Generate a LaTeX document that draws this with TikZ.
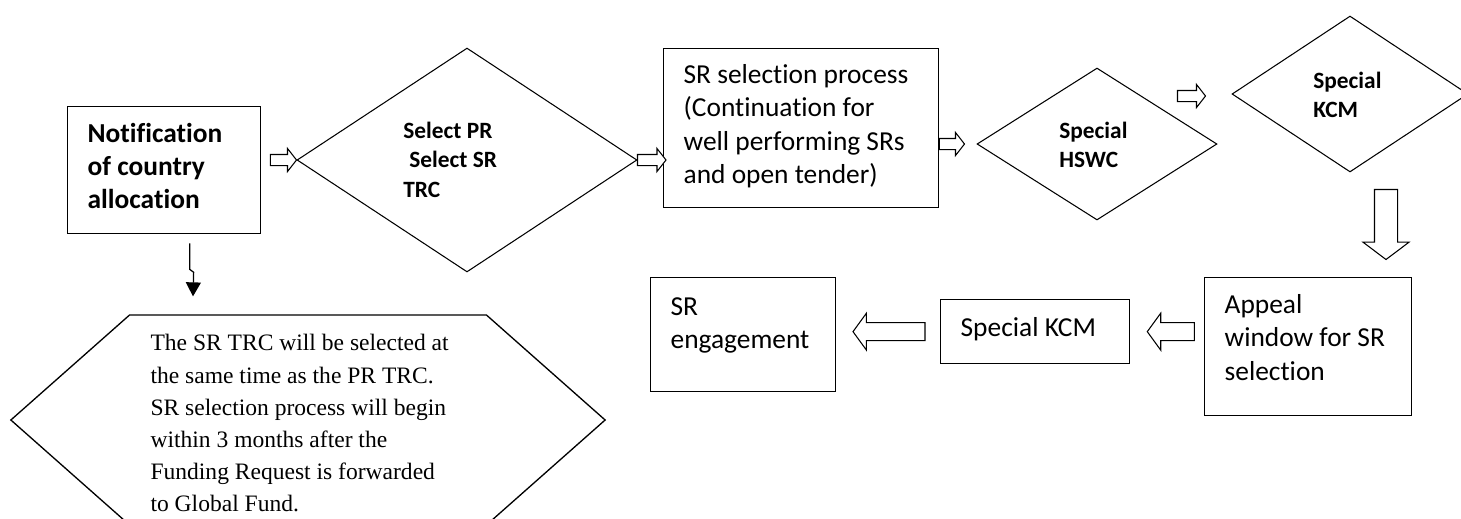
\documentclass[tikz,border=0pt]{standalone}
\usepackage{fontspec}
\setmainfont{Carlito}[Ligatures=NoCommon]
\newfontfamily\notefont{Liberation Serif}
\usetikzlibrary{shapes.geometric, shapes.arrows, shapes.symbols, calc, arrows.meta}

% hollow block arrow from #2 to #3
\newcommand{\blockarrow}[3][]{%
  \path let \p1=#2, \p2=#3, \n1={veclen(\x2-\x1,\y2-\y1)}, \n2={atan2(\y2-\y1,\x2-\x1)} in
    node [hollow arrow, #1, minimum height=\n1, rotate=\n2, anchor=tail] at (\p1) {};}

\begin{document}
\begin{tikzpicture}[x=0.02cm, y=-0.02cm,
  box/.style={draw, line width=0.75pt, anchor=north west, inner xsep=0.4cm, inner ysep=0pt,
    align=flush left, font=\fontsize{15.6}{18.9}\selectfont},
  dia/.style={diamond, draw, line width=0.6pt, inner sep=0pt},
  dtext/.style={anchor=base west, inner sep=0pt, text width=3cm, align=flush left,
    font=\bfseries\fontsize{13.3}{16.8}\selectfont},
  hollow arrow/.style={single arrow, draw, fill=white, line width=0.6pt, inner xsep=0pt,
    inner ysep=0.1cm, single arrow head extend=0.12cm, single arrow tip angle=104,
    single arrow head indent=0pt, outer sep=0pt},
  wide arrow/.style={inner ysep=0.17cm, single arrow head extend=0.19cm, single arrow tip angle=108},
  big arrow/.style={inner ysep=0.22cm, single arrow head extend=0.23cm, single arrow tip angle=106}]
\useasboundingbox (0,0) rectangle (1461,518);
\clip (0,0) rectangle (1461,518);

\node [box, text width=3.06cm, text height=0.72cm, text depth=1.82cm,
  font=\bfseries\fontsize{15.6}{18.6}\selectfont] (nt) at (67,106) {Notification\\of country\\allocation};

\node [dia, minimum width=6.8cm, minimum height=4.48cm] (sel) at (467,160) {};
\node [dtext] (sel-t) at (403,138) {Select PR\\\hspace*{0.12cm}Select SR\\TRC};

\node [box, text width=4.7cm, text height=0.7cm, text depth=2.48cm] (srp) at (663,48)
  {SR selection process\\(Continuation for\\well performing SRs\\and open tender)};

\node [dia, minimum width=4.8cm, minimum height=3.04cm] (hswc) at (1097,144) {};
\node [dtext] (hswc-t) at (1059,138) {Special\\HSWC};

\node [dia, minimum width=4.72cm, minimum height=3.12cm] (kcm) at (1350,94) {};
\node [dtext] (kcm-t) at (1313,88) {Special\\KCM};

\node [box, text width=3.34cm, text height=0.72cm, text depth=2.04cm] (apl) at (1204,277)
  {Appeal\\window for SR\\selection};
\node [box, text width=2.98cm, text height=0.74cm, text depth=0.54cm] (kcmb) at (940,299) {Special KCM};
\node [box, text width=2.9cm, text height=0.76cm, text depth=1.52cm] (eng) at (650,277) {SR\\engagement};

\node [signal, signal to=east and west, signal pointer angle=83, draw, line width=0.75pt,
  minimum height=4.2cm, inner xsep=0.42cm, inner ysep=0pt, text width=6.3cm, text height=0.46cm,
  align=flush left, font=\notefont\fontsize{13.4}{18.3}\selectfont] (note) at (308,420)
  {The SR TRC will be selected at\\the same time as the PR TRC.\\SR selection process will begin\\within 3 months after the\\Funding Request is forwarded\\to Global Fund.};

\blockarrow{($(nt.east |- sel.west)+(9,0)$)}{(sel.west)}
\blockarrow{(sel.east)}{($(srp.west |- sel.east)+(3,0)$)}
\blockarrow{(srp.east |- hswc.west)}{($(hswc.west)+(-12,0)$)}
\blockarrow{($(kcm.west)+(-54,2)$)}{($(kcm.west)+(-26,2)$)}
\blockarrow[big arrow]{($(kcm.south)+(36,17)$)}{($(kcm.south)+(36,87)$)}
\blockarrow[wide arrow]{($(kcmb.east)+(64,0)$)}{($(kcmb.east)+(17,0)$)}
\blockarrow[wide arrow]{($(kcmb.west)+(-15,0)$)}{($(kcmb.west)+(-87,0)$)}

\draw [line width=0.7pt, -{Triangle[length=0.28cm, width=0.3cm]}] ($(nt.south)+(25.5,9)$)
  -- ++(0,26) -- ++(4,3) -- ($(note.north)+(-115,-18)$);
\end{tikzpicture}
\end{document}
